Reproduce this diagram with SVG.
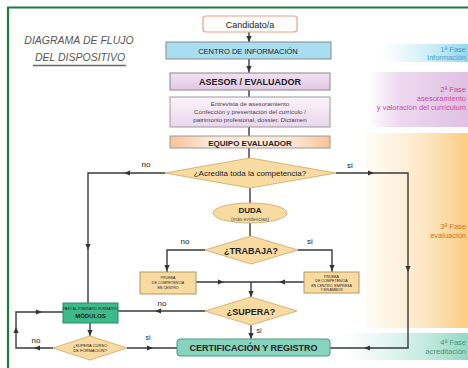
<svg xmlns="http://www.w3.org/2000/svg" width="468" height="368" viewBox="0 0 468 368">
<defs>
<linearGradient id="gBlue" x1="0" y1="0" x2="1" y2="0"><stop offset="0" stop-color="#bfe8f4" stop-opacity="0"/><stop offset="1" stop-color="#94d8ee"/></linearGradient>
<linearGradient id="gPink" x1="0" y1="0" x2="1" y2="0"><stop offset="0" stop-color="#ecd8ee" stop-opacity="0"/><stop offset="0.3" stop-color="#eedaf0"/><stop offset="1" stop-color="#e0c0e4"/></linearGradient>
<linearGradient id="gOrange" x1="0" y1="0" x2="1" y2="0"><stop offset="0" stop-color="#fdf0dc" stop-opacity="0.3"/><stop offset="1" stop-color="#fbcc80"/></linearGradient>
<linearGradient id="gTeal" x1="0" y1="0" x2="1" y2="0"><stop offset="0" stop-color="#c8ece2" stop-opacity="0"/><stop offset="1" stop-color="#94d8c4"/></linearGradient>
<linearGradient id="gAses" x1="0" y1="0" x2="0" y2="1"><stop offset="0" stop-color="#f2e2f2"/><stop offset="1" stop-color="#e2c8e4"/></linearGradient>
<linearGradient id="gEntr" x1="0" y1="0" x2="0" y2="1"><stop offset="0" stop-color="#fbf4fb"/><stop offset="1" stop-color="#ead6ec"/></linearGradient>
<linearGradient id="gEq" x1="0" y1="0" x2="1" y2="0"><stop offset="0" stop-color="#f8c496"/><stop offset="0.25" stop-color="#fde8d8"/><stop offset="0.75" stop-color="#fde8d8"/><stop offset="1" stop-color="#f8c496"/></linearGradient>
<polygon id="ah" points="3,0 -3,-2.6 -3,2.6" fill="#333"/>
</defs>
<style>
.t{font-family:"Liberation Sans",Arial,sans-serif;text-anchor:middle;fill:#222}
.b{font-weight:bold}
.c{stroke:#3a3a3a;stroke-width:1.4;fill:none}
.dia{fill:#f8dba0;stroke:#d9b478;stroke-width:1}
.sb{fill:#f8dba0;stroke:#b8955a;stroke-width:1}
.ph{font-family:"Liberation Sans",Arial,sans-serif;font-size:7.5px;text-anchor:end}
</style>
<rect width="468" height="368" fill="#fff"/>
<!-- phase bands -->
<g id="phases">
<rect x="380" y="44" width="88" height="18" fill="url(#gBlue)"/>
<rect x="368" y="72" width="100" height="55" fill="url(#gPink)"/>
<rect x="366" y="133" width="102" height="195" fill="url(#gOrange)"/>
<rect x="340" y="333" width="128" height="27" fill="url(#gTeal)"/>
<text class="ph" x="466" y="52" fill="#3c9fd0">1ª Fase</text>
<text class="ph" x="466" y="59.5" fill="#3c9fd0" font-size="6.5">información</text>
<text class="ph" x="466" y="92" fill="#cc4aa0">2ª Fase</text>
<text class="ph" x="466" y="101" fill="#cc4aa0">asesoramiento</text>
<text class="ph" x="466" y="110" fill="#cc4aa0">y valoración del currículum</text>
<text class="ph" x="466" y="229" fill="#d0702a">3ª Fase</text>
<text class="ph" x="466" y="238" fill="#d0702a">evaluación</text>
<text class="ph" x="466" y="345" fill="#3a9a88">4ª Fase</text>
<text class="ph" x="466" y="354" fill="#3a9a88">acreditación</text>
</g>
<!-- frame -->
<path d="M8,368 V7.5 H468" fill="none" stroke="#1f7a45" stroke-width="2.2"/>
<!-- title -->
<g id="title">
<text class="t" x="79" y="44" font-size="10.5" font-style="italic" style="fill:#555">DIAGRAMA DE FLUJO</text>
<text class="t" x="80" y="61" font-size="10.5" font-style="italic" style="fill:#555">DEL DISPOSITIVO</text>
<line x1="33" y1="65.5" x2="126" y2="65.5" stroke="#666" stroke-width="1.5"/>
</g>
<!-- connectors -->
<g id="connectors">
<path class="c" d="M249,32 V42 M249,59 V73 M249,90 V97 M249,127 V136 M249,148 V158 M250,188 V203 M250,223 V236"/>
<use href="#ah" transform="translate(249,39) rotate(90)"/>
<use href="#ah" transform="translate(249,69) rotate(90)"/>
<path class="c" d="M165,173 H88 V303"/>
<use href="#ah" transform="translate(127,173) rotate(180)"/>
<use href="#ah" transform="translate(88,247) rotate(90)"/>
<path class="c" d="M336,173 H408 V348 H330"/>
<use href="#ah" transform="translate(371,173)"/>
<use href="#ah" transform="translate(408,269) rotate(90)"/>
<use href="#ah" transform="translate(367,348) rotate(180)"/>
<path class="c" d="M205,250 H167 V272 M298,250 H332 V272"/>
<use href="#ah" transform="translate(167,268) rotate(90)"/>
<use href="#ah" transform="translate(332,268) rotate(90)"/>
<path class="c" d="M196,282 H304 M251,282 V297"/>
<use href="#ah" transform="translate(221,282)"/>
<use href="#ah" transform="translate(282,282) rotate(180)"/>
<use href="#ah" transform="translate(251,294) rotate(90)"/>
<path class="c" d="M205,311 H118"/>
<use href="#ah" transform="translate(158,311) rotate(180)"/>
<path class="c" d="M251,325 V339"/>
<use href="#ah" transform="translate(251,336) rotate(90)"/>
<path class="c" d="M90,323 V336"/>
<use href="#ah" transform="translate(90,333) rotate(90)"/>
<path class="c" d="M53,348 H16 V312 H63"/>
<use href="#ah" transform="translate(37,348) rotate(180)"/>
<use href="#ah" transform="translate(16,330) rotate(-90)"/>
<use href="#ah" transform="translate(39,312)"/>
<path class="c" d="M127,348 H177"/>
<use href="#ah" transform="translate(150,348)"/>
<text class="t" x="146" y="167" font-size="8">no</text>
<text class="t" x="350" y="168" font-size="8">si</text>
<text class="t" x="185" y="244" font-size="8">no</text>
<text class="t" x="310" y="244" font-size="8">si</text>
<text class="t" x="162" y="306" font-size="8">no</text>
<text class="t" x="259" y="333" font-size="7">si</text>
<text class="t" x="36" y="343" font-size="8">no</text>
<text class="t" x="148" y="340" font-size="7">si</text>
</g>
<!-- nodes -->
<g id="candidato">
<rect x="203" y="16" width="94" height="16" rx="3" fill="#fff" stroke="#f0a080" stroke-width="1.2"/>
<text class="t" x="250" y="27.5" font-size="9">Candidato/a</text>
</g>
<g id="centro">
<rect x="166" y="42" width="165" height="17" fill="#a8def0" stroke="#888" stroke-width="1"/>
<text class="t" x="248" y="53.5" font-size="7.5">CENTRO DE INFORMACIÓN</text>
</g>
<g id="asesor">
<rect x="170" y="73" width="160" height="17" fill="url(#gAses)" stroke="#888" stroke-width="1"/>
<text class="t b" x="250" y="85" font-size="9">ASESOR / EVALUADOR</text>
</g>
<g id="entrevista">
<rect x="170" y="97" width="160" height="30" fill="url(#gEntr)" stroke="#999" stroke-width="1"/>
<text class="t" x="250" y="105.5" font-size="6.2" style="fill:#444">Entrevista de asesoramiento</text>
<text class="t" x="250" y="113.5" font-size="6.2" style="fill:#444">Confección y presentación del currículo /</text>
<text class="t" x="250" y="121.5" font-size="6.2" style="fill:#444">patrimonio profesional, dossier. Dictamen</text>
</g>
<g id="equipo">
<rect x="170" y="136" width="160" height="12" fill="url(#gEq)" stroke="#999" stroke-width="1"/>
<text class="t b" x="250" y="145.5" font-size="8">EQUIPO EVALUADOR</text>
</g>
<g id="acredita">
<polygon class="dia" points="165,173 250,158 336,173 250,188"/>
<text class="t" x="250" y="176" font-size="8">¿Acredita toda la competencia?</text>
</g>
<g id="duda">
<ellipse cx="250" cy="213" rx="37" ry="10" class="dia"/>
<text class="t b" x="250" y="213" font-size="8">DUDA</text>
<text class="t" x="250" y="220.5" font-size="5" style="fill:#555">(más evidencias)</text>
</g>
<g id="trabaja">
<polygon class="dia" points="205,250 251,236 298,250 251,264"/>
<text class="t b" x="251" y="253.5" font-size="9">¿TRABAJA?</text>
</g>
<g id="prueba-centro">
<rect class="sb" x="140" y="272" width="56" height="22"/>
<text class="t" x="168" y="279" font-size="3.6">PRUEBA</text>
<text class="t" x="168" y="284" font-size="3.6">DE COMPETENCIA</text>
<text class="t" x="168" y="289" font-size="3.6">EN CENTRO</text>
</g>
<g id="prueba-empresa">
<rect class="sb" x="304" y="272" width="55" height="21"/>
<text class="t" x="331.5" y="277.5" font-size="3.6">PRUEBA</text>
<text class="t" x="331.5" y="282" font-size="3.6">DE COMPETENCIA</text>
<text class="t" x="331.5" y="286.5" font-size="3.6">EN CENTRO, EMPRESA</text>
<text class="t" x="331.5" y="291" font-size="3.6">Y EN AMBOS</text>
</g>
<g id="supera">
<polygon class="dia" points="205,311 251,297 297,311 251,325"/>
<text class="t b" x="251" y="314.5" font-size="9">¿SUPERA?</text>
</g>
<g id="modulos">
<rect x="63" y="303" width="55" height="20" fill="#3dba8a" stroke="#2a8a64" stroke-width="1"/>
<text class="t" x="90.5" y="309.5" font-size="3.4">PASO AL ITINERARIO FORMATIVO</text>
<text class="t b" x="90.5" y="317.5" font-size="6">MÓDULOS</text>
</g>
<g id="supera-curso">
<polygon class="dia" points="53,348 90,336 127,348 90,360"/>
<text class="t" x="90" y="347" font-size="4">¿SUPERA CURSO</text>
<text class="t" x="90" y="352" font-size="4">DE FORMACIÓN?</text>
</g>
<g id="certificacion">
<rect x="177" y="339" width="153" height="17" rx="3" fill="#86d4bd" stroke="#4a9a84" stroke-width="1"/>
<text class="t b" x="253.5" y="351" font-size="9">CERTIFICACIÓN Y REGISTRO</text>
</g>
</svg>
